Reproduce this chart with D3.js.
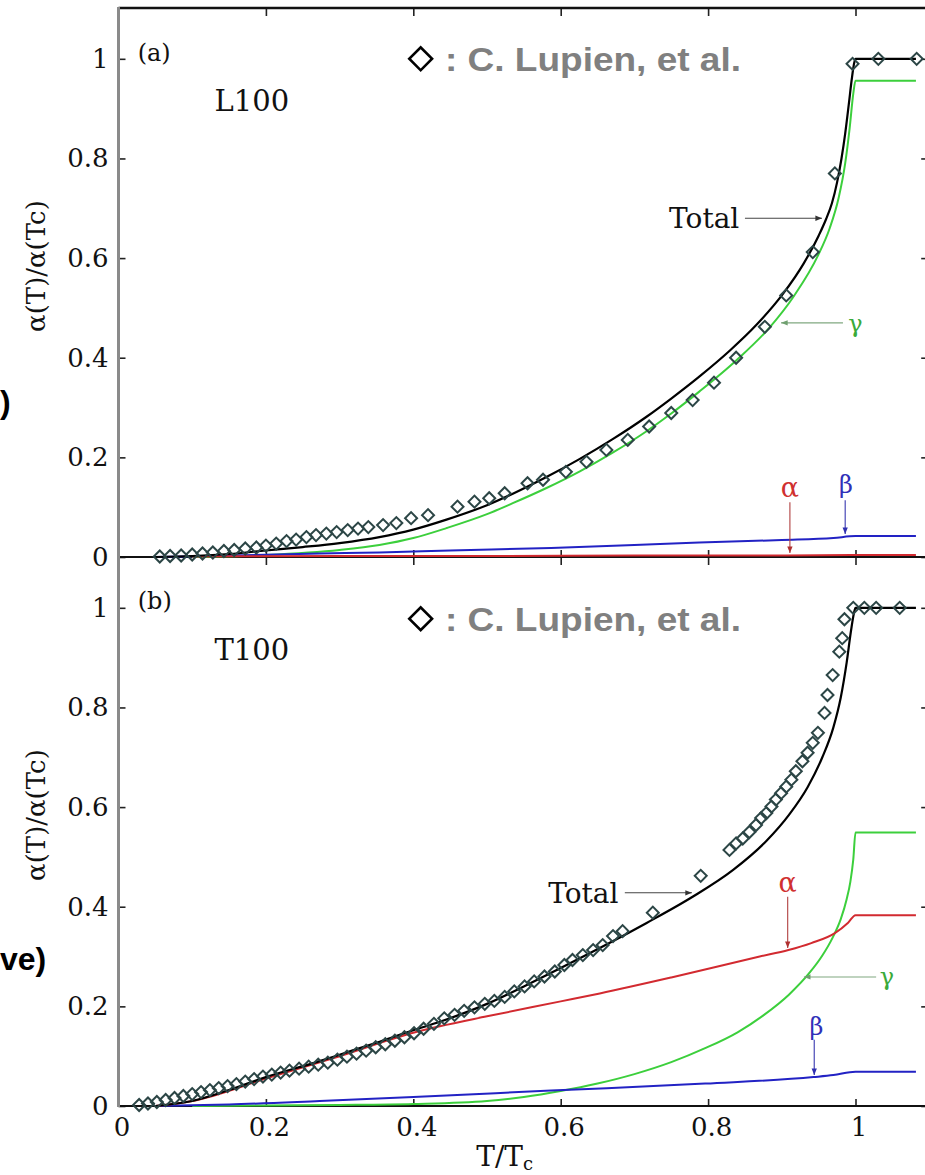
<!DOCTYPE html>
<html><head><meta charset="utf-8">
<script src="https://cdn.jsdelivr.net/npm/d3@7"></script>
<style>
body{margin:0;background:#fff;overflow:hidden}
svg{display:block}
</style>
</head><body>
<svg id="c" width="925" height="1175"></svg>
<script>
// ---------------- data ----------------
const xTickValues = [0, 0.2, 0.4, 0.6, 0.8, 1];
const xTickLabels = ["0", "0.2", "0.4", "0.6", "0.8", "1"];
const yTickValues = [0, 0.2, 0.4, 0.6, 0.8, 1];
const yTickLabels = ["0", "0.2", "0.4", "0.6", "0.8", "1"];
const panelNames = ["(a)", "(b)"];
const sampleNames = ["L100", "T100"];
const legendText = ": C. Lupien, et al.";
const yAxisTitle = "α(T)/α(Tc)";

// Panel (a) L100 : [T/Tc, α(T)/α(Tc)]
const totalA = [[0.05,0],[0.1,0.002],[0.15,0.006],[0.2,0.013],[0.25,0.02],[0.3,0.028],[0.354,0.04],[0.4,0.055],[0.445,0.075],[0.5,0.104],[0.535,0.127],[0.58,0.16],[0.626,0.197],[0.67,0.236],[0.716,0.281],[0.75,0.318],[0.788,0.362],[0.83,0.415],[0.865,0.465],[0.901,0.527],[0.93,0.59],[0.95,0.645],[0.96,0.678],[0.968,0.71],[0.975,0.752],[0.981,0.8],[0.986,0.85],[0.991,0.91],[0.995,0.96],[0.998,0.99],[1.0,1.0],[1.082,1.0]];
const gammaA = [[0.1,0],[0.2,0.004],[0.3,0.014],[0.354,0.024],[0.4,0.038],[0.445,0.058],[0.5,0.086],[0.535,0.108],[0.58,0.138],[0.626,0.172],[0.67,0.209],[0.716,0.252],[0.75,0.288],[0.788,0.332],[0.84,0.397],[0.883,0.46],[0.917,0.525],[0.949,0.605],[0.965,0.66],[0.977,0.72],[0.986,0.79],[0.992,0.86],[0.997,0.93],[1.0,0.956],[1.082,0.956]];
const alphaA = [[0.1,0.001],[0.3,0.002],[0.5,0.002],[0.7,0.003],[0.9,0.003],[1.0,0.004],[1.082,0.004]];
const betaA = [[0.05,0],[0.15,0.003],[0.273,0.007],[0.354,0.009],[0.45,0.013],[0.587,0.018],[0.7,0.024],[0.788,0.029],[0.9,0.034],[0.97,0.038],[1.0,0.042],[1.082,0.042]];
const lupienA = [[0.056,0.001],[0.070,0.002],[0.085,0.003],[0.100,0.005],[0.114,0.007],[0.128,0.009],[0.143,0.012],[0.157,0.014],[0.172,0.017],[0.187,0.019],[0.200,0.023],[0.214,0.027],[0.228,0.032],[0.241,0.035],[0.255,0.040],[0.268,0.044],[0.282,0.047],[0.296,0.050],[0.311,0.054],[0.325,0.057],[0.339,0.060],[0.359,0.064],[0.377,0.068],[0.397,0.078],[0.420,0.084],[0.460,0.101],[0.483,0.111],[0.503,0.118],[0.524,0.128],[0.555,0.148],[0.576,0.155],[0.607,0.171],[0.635,0.191],[0.662,0.215],[0.691,0.235],[0.720,0.262],[0.750,0.289],[0.779,0.315],[0.808,0.350],[0.838,0.400],[0.877,0.462],[0.906,0.525],[0.942,0.612],[0.972,0.770],[0.996,0.990],[1.031,1.0],[1.083,1.0]];

// Panel (b) T100
const totalB = [[0.05,0],[0.1,0.01],[0.15,0.032],[0.2,0.058],[0.273,0.09],[0.3,0.103],[0.35,0.127],[0.4,0.152],[0.436,0.169],[0.5,0.205],[0.55,0.24],[0.6,0.277],[0.653,0.317],[0.716,0.367],[0.779,0.42],[0.834,0.474],[0.879,0.532],[0.91,0.585],[0.935,0.64],[0.955,0.70],[0.97,0.76],[0.98,0.82],[0.988,0.89],[0.994,0.955],[0.998,0.99],[1.0,1.0],[1.082,1.0]];
const alphaB = [[0.05,0],[0.1,0.01],[0.2,0.055],[0.3,0.1],[0.4,0.147],[0.436,0.16],[0.5,0.18],[0.6,0.21],[0.653,0.226],[0.75,0.258],[0.87,0.3],[0.909,0.313],[0.94,0.327],[0.972,0.347],[0.99,0.368],[1.0,0.383],[1.082,0.383]];
const betaB = [[0.05,0],[0.15,0.003],[0.273,0.01],[0.4,0.018],[0.587,0.031],[0.796,0.045],[0.943,0.058],[0.97,0.062],[1.0,0.069],[1.082,0.069]];
const gammaB = [[0.1,0],[0.2,0.001],[0.3,0.002],[0.4,0.004],[0.5,0.01],[0.55,0.018],[0.6,0.03],[0.65,0.045],[0.7,0.064],[0.75,0.088],[0.796,0.116],[0.84,0.148],[0.875,0.182],[0.91,0.224],[0.938,0.268],[0.955,0.302],[0.969,0.338],[0.98,0.375],[0.988,0.415],[0.993,0.45],[0.997,0.495],[1.0,0.549],[1.082,0.549]];
const lupienB = [[0.028,0.002],[0.040,0.005],[0.052,0.008],[0.064,0.012],[0.076,0.016],[0.088,0.020],[0.100,0.024],[0.112,0.028],[0.124,0.032],[0.136,0.036],[0.148,0.040],[0.160,0.044],[0.172,0.049],[0.184,0.054],[0.196,0.059],[0.208,0.063],[0.220,0.067],[0.232,0.071],[0.245,0.075],[0.258,0.079],[0.271,0.083],[0.284,0.087],[0.297,0.093],[0.310,0.099],[0.323,0.105],[0.336,0.111],[0.349,0.118],[0.362,0.124],[0.375,0.131],[0.388,0.138],[0.401,0.146],[0.414,0.155],[0.428,0.165],[0.442,0.176],[0.456,0.183],[0.469,0.191],[0.483,0.198],[0.497,0.205],[0.510,0.211],[0.524,0.219],[0.537,0.230],[0.551,0.240],[0.564,0.250],[0.578,0.260],[0.592,0.270],[0.605,0.283],[0.616,0.293],[0.630,0.303],[0.644,0.313],[0.657,0.323],[0.671,0.341],[0.684,0.351],[0.725,0.388],[0.790,0.462],[0.829,0.514],[0.838,0.527],[0.847,0.537],[0.856,0.550],[0.865,0.564],[0.872,0.578],[0.879,0.588],[0.886,0.601],[0.892,0.615],[0.899,0.628],[0.906,0.641],[0.913,0.655],[0.919,0.672],[0.928,0.692],[0.935,0.709],[0.942,0.729],[0.949,0.749],[0.958,0.789],[0.962,0.825],[0.969,0.865],[0.978,0.912],[0.982,0.939],[0.985,0.977],[0.997,1.0],[1.012,1.0],[1.028,1.0],[1.060,1.0]];

// ---------------- layout ----------------
const svg = d3.select("#c");
const W = 925, H = 1175;
const SERIF = '"DejaVu Serif","Liberation Serif",serif';
const SANS = '"Liberation Sans",Arial,sans-serif';
const C = {total:"#000000", alpha:"#d22a30", beta:"#2222c4", gamma:"#3ccf3c", exp:"#2c4646", grey:"#8a8a8a"};

const x = d3.scaleLinear().domain([0, 1.1]).range([118.5, 929.2]);
const panels = [
  {name:panelNames[0], sample:sampleNames[0], y:d3.scaleLinear().domain([0,1.1]).range([557,9]),
   total:totalA, alpha:alphaA, beta:betaA, gamma:gammaA, exp:lupienA, legendV:[1.0,0.976], bottomLabels:false,
   ann:{total:{tx:0.747,tv:0.66,a:[[0.85,0.68],[0.9545,0.68]]},
        gamma:{tx:0.99,tv:0.452,a:[[0.983,0.47],[0.899,0.47]]},
        alpha:{tx:0.911,tv:0.12,a:[[0.911,0.11],[0.911,0.008]]},
        beta:{tx:0.987,tv:0.128,a:[[0.986,0.114],[0.986,0.046]]}}},
  {name:panelNames[1], sample:sampleNames[1], y:d3.scaleLinear().domain([0,1.1]).range([1106,558]),
   total:totalB, alpha:alphaB, beta:betaB, gamma:gammaB, exp:lupienB, legendV:[0.978,0.954], bottomLabels:true,
   ann:{total:{tx:0.583,tv:0.408,a:[[0.687,0.428],[0.778,0.428]]},
        gamma:{tx:1.033,tv:0.243,a:[[1.028,0.259],[0.93,0.259]]},
        alpha:{tx:0.908,tv:0.43,a:[[0.908,0.42],[0.908,0.317]]},
        beta:{tx:0.947,tv:0.143,a:[[0.944,0.133],[0.944,0.062]]}}}
];

const defs = svg.append("defs");
function marker(id, color){
  defs.append("marker").attr("id", id).attr("viewBox","0 0 10 10").attr("refX",10).attr("refY",5)
    .attr("markerWidth",7).attr("markerHeight",6).attr("orient","auto")
    .append("path").attr("d","M0,1L10,5L0,9Z").attr("fill", color);
}
marker("mk", "#333"); marker("mr", "#b03030"); marker("mb", "#3030b0"); marker("mg", "#70a070");

svg.append("rect").attr("width",W).attr("height",H).attr("fill","#fff");

const line = y => d3.line().x(d => x(d[0])).y(d => y(d[1])).curve(d3.curveMonotoneX);
const diamond = d3.symbol().type(d3.symbolSquare).size(72);

panels.forEach((p, i) => {
  const y = p.y;
  const g = svg.append("g");
  const y0 = y(0), y1 = y(1.1), xl = x(0), xr = x(1.1);

  // axes (ticks inward)
  const ax = g.append("g").attr("class","axes");
  ax.append("g").attr("transform",`translate(${xl},0)`)
    .call(d3.axisLeft(y).tickValues(yTickValues).tickSize(-7).tickPadding(10).tickFormat((d,k)=>yTickLabels[k]));
  ax.append("g").attr("transform",`translate(${xr},0)`)
    .call(d3.axisRight(y).tickValues(yTickValues).tickSize(-8).tickFormat(""));
  ax.append("g").attr("transform",`translate(0,${y1})`)
    .call(d3.axisTop(x).tickValues(xTickValues).tickSize(-7).tickFormat(""));
  const bottom = ax.append("g").attr("transform",`translate(0,${y0})`)
    .call(d3.axisBottom(x).tickValues(xTickValues).tickSize(-7).tickPadding(12)
      .tickFormat((d,k)=> p.bottomLabels ? xTickLabels[k] : ""));
  ax.selectAll(".domain").remove();
  ax.selectAll(".tick line").attr("stroke","#222").attr("stroke-width",1.6);
  ax.selectAll(".tick text").attr("font-family",SERIF).attr("font-size",26).attr("fill","#111");
  bottom.selectAll(".tick text").attr("dx",3);

  // frame lines
  g.append("line").attr("x1",xl).attr("x2",W+10).attr("y1",y0).attr("y2",y0).attr("stroke","#111").attr("stroke-width",2);
  if (i === 0) g.append("line").attr("x1",xl).attr("x2",W+10).attr("y1",y1-1).attr("y2",y1-1).attr("stroke","#111").attr("stroke-width",2.5);

  // curves
  [["gamma",C.gamma],["beta",C.beta],["alpha",C.alpha],["total",C.total]].forEach(([k,col]) => {
    g.append("path").datum(p[k]).attr("d", line(y)).attr("fill","none")
      .attr("stroke", col).attr("stroke-width", k==="total"?2.2:2).attr("stroke-linejoin","round");
  });

  // experimental diamonds
  g.append("g").selectAll("path").data(p.exp).join("path")
    .attr("transform", d => `translate(${x(d[0])},${y(d[1])}) rotate(45)`)
    .attr("d", diamond).attr("fill","none").attr("stroke",C.exp).attr("stroke-width",2);

  // panel label & sample
  g.append("text").attr("x", x(0.026)).attr("y", y(i===0?0.996:0.998)).attr("font-family",SERIF)
    .attr("font-size",24).attr("fill","#111").text(p.name);
  g.append("text").attr("x", x(0.181)).attr("y", y(0.895)).attr("text-anchor","middle").attr("font-family",SERIF)
    .attr("font-size",29).attr("fill","#111").text(p.sample);

  // legend
  g.append("path").attr("transform",`translate(${x(0.41)},${y(p.legendV[0])}) rotate(45)`)
    .attr("d", d3.symbol().type(d3.symbolSquare).size(260)).attr("fill","none").attr("stroke","#000").attr("stroke-width",2.6);
  g.append("text").attr("x", x(0.443)).attr("y", y(p.legendV[1])).attr("font-family",SANS).attr("font-weight","bold")
    .attr("font-size",33).attr("fill","#808080").attr("textLength",296).attr("lengthAdjust","spacingAndGlyphs").text(legendText);

  // annotations
  const a = p.ann;
  const arrow = (pts, col, mk) => g.append("line").attr("x1",x(pts[0][0])).attr("y1",y(pts[0][1]))
     .attr("x2",x(pts[1][0])).attr("y2",y(pts[1][1])).attr("stroke",col).attr("stroke-width",1.1).attr("marker-end",`url(#${mk})`);
  g.append("text").attr("x",x(a.total.tx)).attr("y",y(a.total.tv)).attr("font-family",SERIF).attr("font-size",28).attr("fill","#111").text("Total");
  arrow(a.total.a, "#444", "mk");
  g.append("text").attr("x",x(a.gamma.tx)).attr("y",y(a.gamma.tv)).attr("font-family",SERIF).attr("font-size",24).attr("fill","#3aaa3a").text("γ");
  arrow(a.gamma.a, "#80a880", "mg");
  g.append("text").attr("x",x(a.alpha.tx)).attr("y",y(a.alpha.tv)).attr("text-anchor","middle").attr("font-family",SERIF).attr("font-size",27).attr("fill","#d03030").text("α");
  arrow(a.alpha.a, "#b04040", "mr");
  g.append("text").attr("x",x(a.beta.tx)).attr("y",y(a.beta.tv)).attr("text-anchor","middle").attr("font-family",SERIF).attr("font-size",24).attr("fill","#3030b8").text("β");
  arrow(a.beta.a, "#3838b0", "mb");

  // y axis title
  g.append("text").attr("transform",`translate(45,${y(0.584)}) rotate(-90)`).attr("text-anchor","middle")
    .attr("font-family",SERIF).attr("font-size",26).attr("fill","#111").text(yAxisTitle);
});

// left axis spine (grey, continuous)
svg.append("line").attr("x1",x(0)).attr("x2",x(0)).attr("y1",panels[0].y(1.1)-2).attr("y2",panels[1].y(0)+1)
  .attr("stroke",C.grey).attr("stroke-width",3);

// x axis title
const xt = svg.append("text").attr("x", x(0.524)).attr("y", panels[1].y(0)+60).attr("text-anchor","middle")
  .attr("font-family",SERIF).attr("font-size",28).attr("fill","#111");
xt.append("tspan").text("T/T");
xt.append("tspan").attr("font-size",18).attr("dy",4).text("c");

// side texts at left edge (remnants of a caption)
svg.append("text").attr("x",0).attr("y",413).attr("font-family",SANS).attr("font-weight","bold").attr("font-size",32).attr("fill","#000").text(")");
svg.append("text").attr("x",0).attr("y",970).attr("font-family",SANS).attr("font-weight","bold").attr("font-size",32).attr("fill","#000").text("ve)");
</script>
</body></html>
